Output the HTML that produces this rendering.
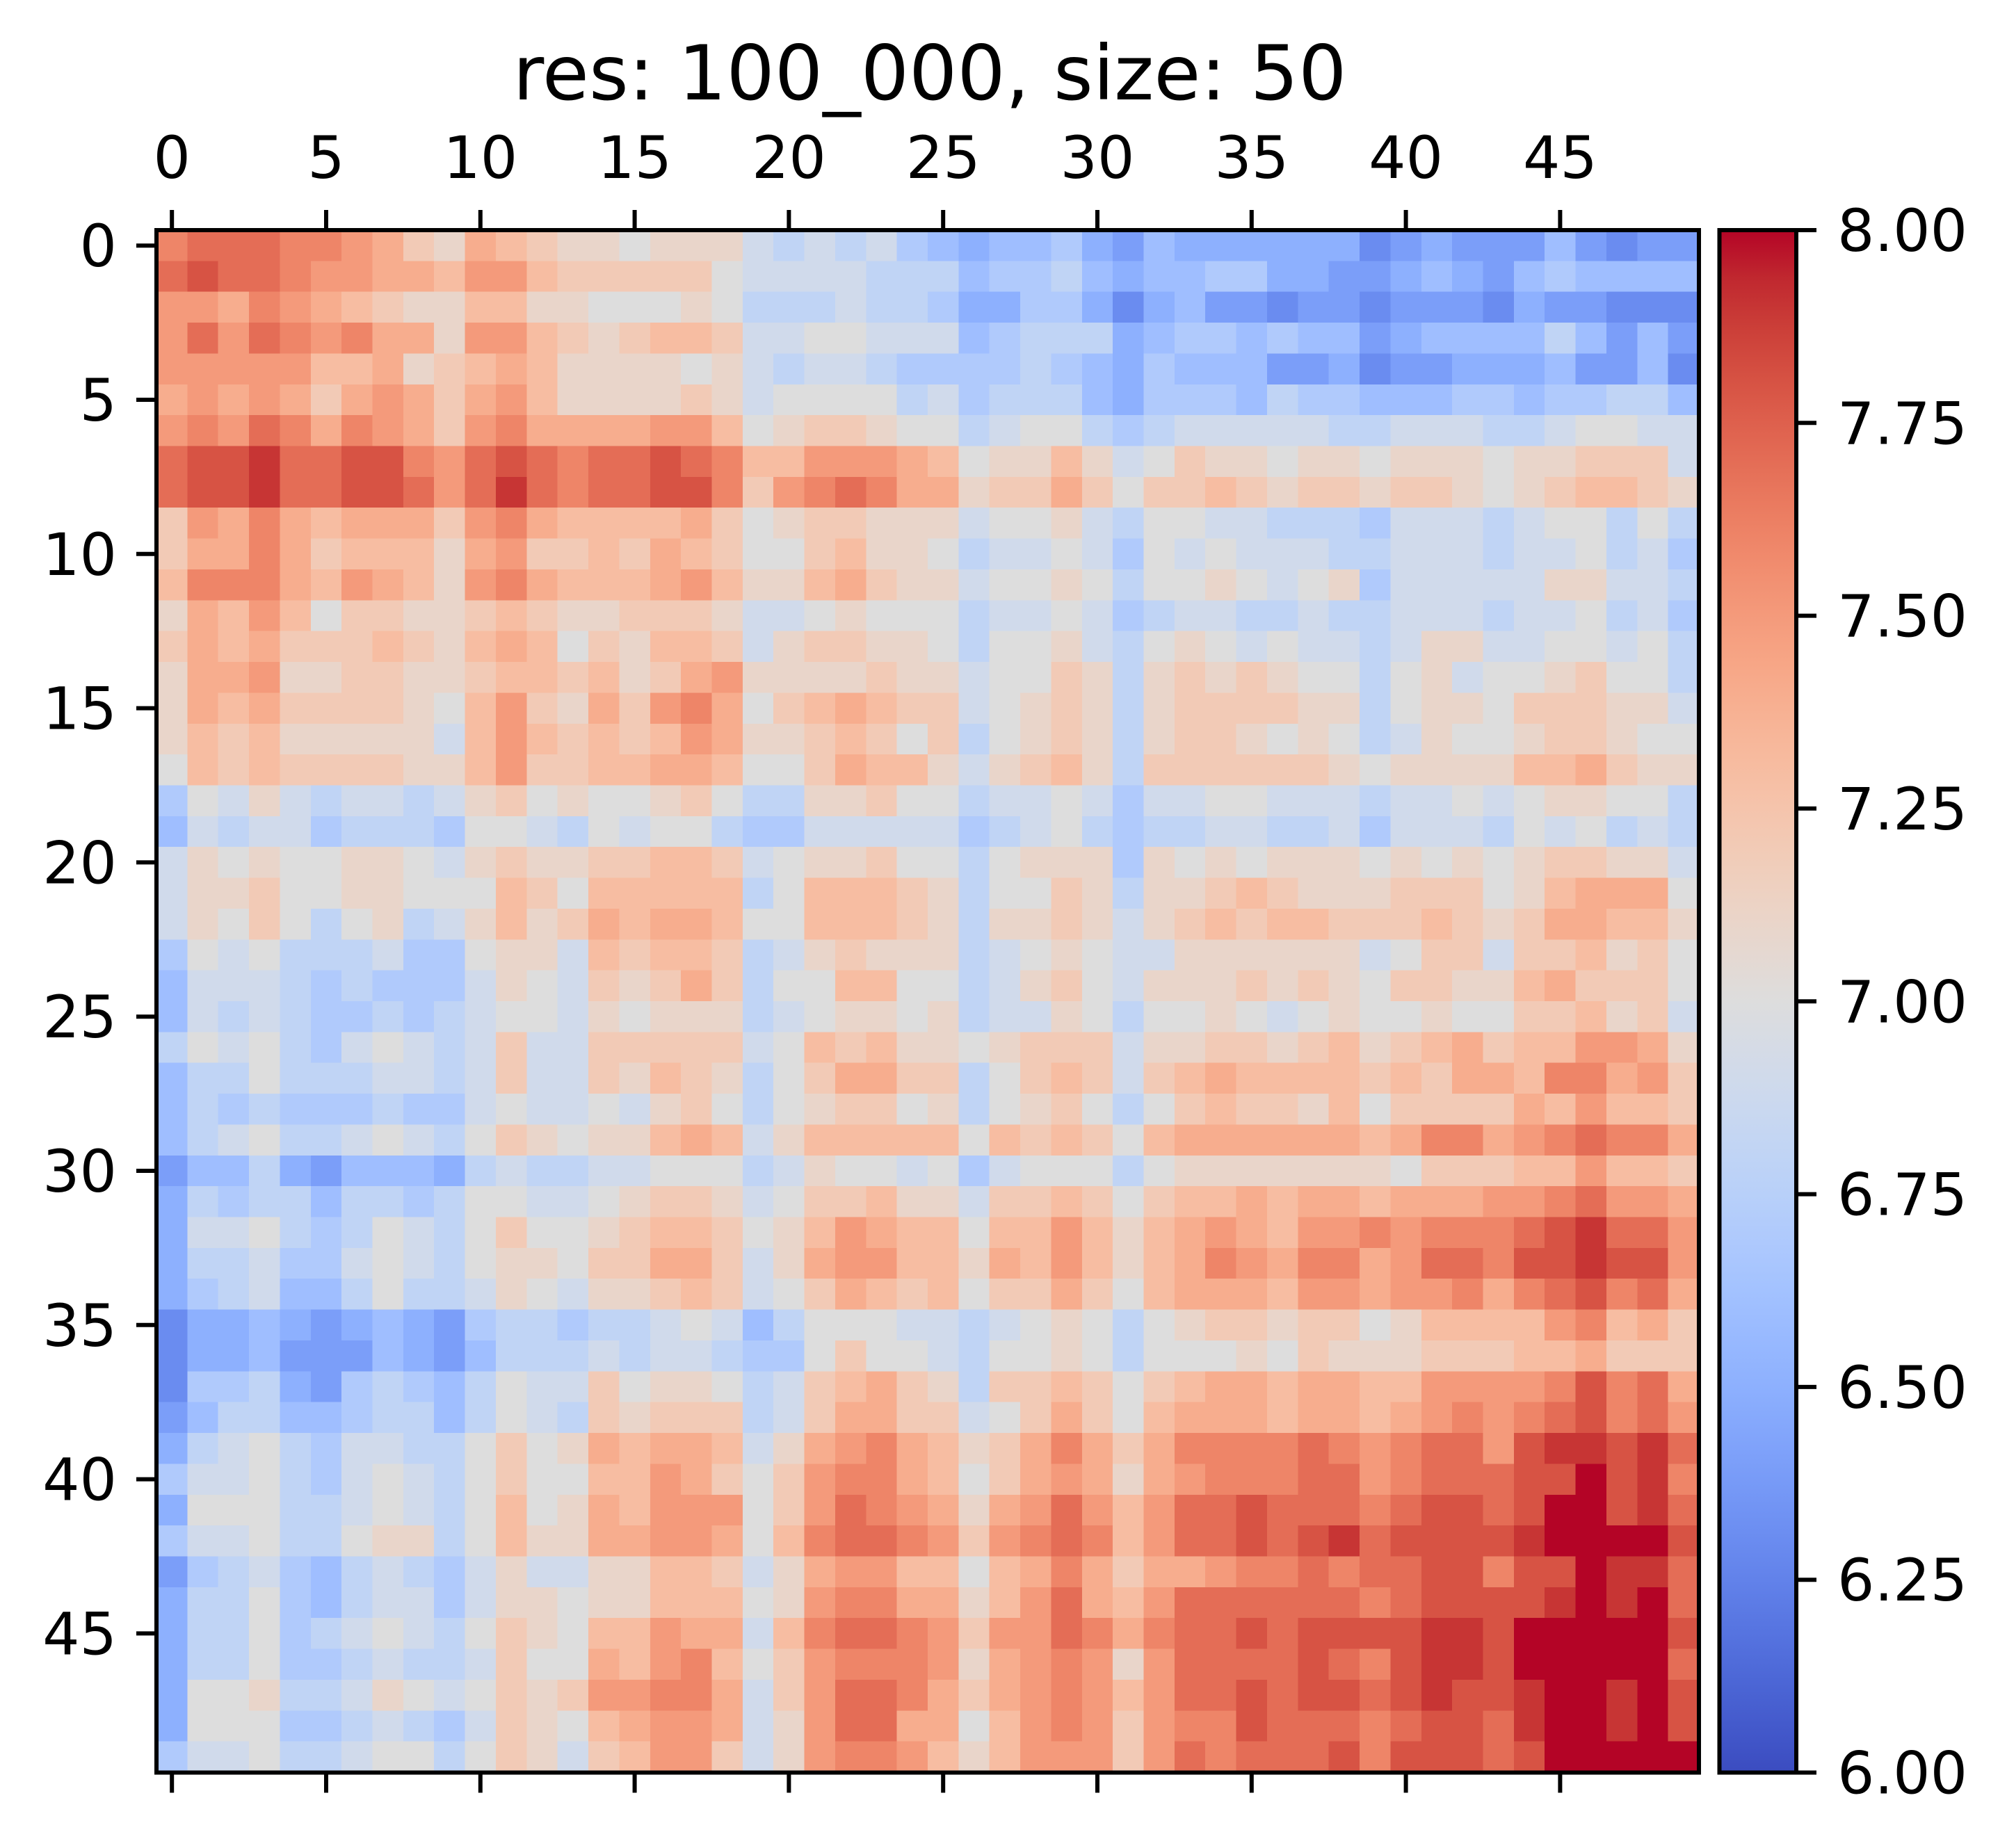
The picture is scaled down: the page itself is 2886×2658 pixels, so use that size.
<!DOCTYPE html>
<html>
<head>
<meta charset="utf-8">
<style>
html,body{margin:0;padding:0;background:#fff;}
body{width:2886px;height:2658px;overflow:hidden;}
svg{display:block;}
text{font-family:"DejaVu Sans","Liberation Sans",sans-serif;fill:#000;}
</style>
</head>
<body>
<svg id="s" width="2886" height="2658" viewBox="0 0 2886 2658" xmlns="http://www.w3.org/2000/svg">
<defs>
<linearGradient id="cb" x1="0" y1="0" x2="0" y2="1">
<stop offset="0" stop-color="rgb(180,4,38)"/>
<stop offset="0.03125" stop-color="rgb(192,40,47)"/>
<stop offset="0.0625" stop-color="rgb(203,62,56)"/>
<stop offset="0.09375" stop-color="rgb(213,80,66)"/>
<stop offset="0.125" stop-color="rgb(222,96,77)"/>
<stop offset="0.15625" stop-color="rgb(229,112,88)"/>
<stop offset="0.1875" stop-color="rgb(236,127,99)"/>
<stop offset="0.21875" stop-color="rgb(241,141,111)"/>
<stop offset="0.25" stop-color="rgb(244,154,123)"/>
<stop offset="0.28125" stop-color="rgb(247,166,134)"/>
<stop offset="0.3125" stop-color="rgb(247,177,147)"/>
<stop offset="0.34375" stop-color="rgb(247,187,159)"/>
<stop offset="0.375" stop-color="rgb(245,196,172)"/>
<stop offset="0.40625" stop-color="rgb(241,204,184)"/>
<stop offset="0.4375" stop-color="rgb(236,211,197)"/>
<stop offset="0.46875" stop-color="rgb(229,216,209)"/>
<stop offset="0.5" stop-color="rgb(221,221,221)"/>
<stop offset="0.53125" stop-color="rgb(213,219,230)"/>
<stop offset="0.5625" stop-color="rgb(204,217,238)"/>
<stop offset="0.59375" stop-color="rgb(194,213,244)"/>
<stop offset="0.625" stop-color="rgb(184,208,249)"/>
<stop offset="0.65625" stop-color="rgb(174,201,253)"/>
<stop offset="0.6875" stop-color="rgb(163,194,255)"/>
<stop offset="0.71875" stop-color="rgb(152,185,255)"/>
<stop offset="0.75" stop-color="rgb(141,176,254)"/>
<stop offset="0.78125" stop-color="rgb(130,165,251)"/>
<stop offset="0.8125" stop-color="rgb(119,154,247)"/>
<stop offset="0.84375" stop-color="rgb(108,142,241)"/>
<stop offset="0.875" stop-color="rgb(98,130,234)"/>
<stop offset="0.90625" stop-color="rgb(87,117,225)"/>
<stop offset="0.9375" stop-color="rgb(77,104,215)"/>
<stop offset="0.96875" stop-color="rgb(68,90,204)"/>
<stop offset="1" stop-color="rgb(59,76,192)"/>
</linearGradient>
</defs>

<g id="cells" shape-rendering="crispEdges"></g>

<!-- axes frame -->
<rect x="225" y="331" width="2218" height="2218.5" fill="none" stroke="#000" stroke-width="6"/>

<g stroke="#000" stroke-width="6">
<line x1="247.2" y1="302" x2="247.2" y2="331"/>
<line x1="469.0" y1="302" x2="469.0" y2="331"/>
<line x1="690.8" y1="302" x2="690.8" y2="331"/>
<line x1="912.6" y1="302" x2="912.6" y2="331"/>
<line x1="1134.4" y1="302" x2="1134.4" y2="331"/>
<line x1="1356.2" y1="302" x2="1356.2" y2="331"/>
<line x1="1578.0" y1="302" x2="1578.0" y2="331"/>
<line x1="1799.8" y1="302" x2="1799.8" y2="331"/>
<line x1="2021.6" y1="302" x2="2021.6" y2="331"/>
<line x1="2243.4" y1="302" x2="2243.4" y2="331"/>
<line x1="247.2" y1="2549.5" x2="247.2" y2="2578.5"/>
<line x1="469.0" y1="2549.5" x2="469.0" y2="2578.5"/>
<line x1="690.8" y1="2549.5" x2="690.8" y2="2578.5"/>
<line x1="912.6" y1="2549.5" x2="912.6" y2="2578.5"/>
<line x1="1134.4" y1="2549.5" x2="1134.4" y2="2578.5"/>
<line x1="1356.2" y1="2549.5" x2="1356.2" y2="2578.5"/>
<line x1="1578.0" y1="2549.5" x2="1578.0" y2="2578.5"/>
<line x1="1799.8" y1="2549.5" x2="1799.8" y2="2578.5"/>
<line x1="2021.6" y1="2549.5" x2="2021.6" y2="2578.5"/>
<line x1="2243.4" y1="2549.5" x2="2243.4" y2="2578.5"/>
<line x1="196" y1="353.2" x2="225" y2="353.2"/>
<line x1="196" y1="575.0" x2="225" y2="575.0"/>
<line x1="196" y1="796.8" x2="225" y2="796.8"/>
<line x1="196" y1="1018.6" x2="225" y2="1018.6"/>
<line x1="196" y1="1240.4" x2="225" y2="1240.4"/>
<line x1="196" y1="1462.2" x2="225" y2="1462.2"/>
<line x1="196" y1="1684.0" x2="225" y2="1684.0"/>
<line x1="196" y1="1905.8" x2="225" y2="1905.8"/>
<line x1="196" y1="2127.6" x2="225" y2="2127.6"/>
<line x1="196" y1="2349.4" x2="225" y2="2349.4"/>
</g>

<g font-size="84" text-anchor="middle">
<text x="247.2" y="256">0</text>
<text x="469.0" y="256">5</text>
<text x="690.8" y="256">10</text>
<text x="912.6" y="256">15</text>
<text x="1134.4" y="256">20</text>
<text x="1356.2" y="256">25</text>
<text x="1578.0" y="256">30</text>
<text x="1799.8" y="256">35</text>
<text x="2021.6" y="256">40</text>
<text x="2243.4" y="256">45</text>
</g>

<g font-size="84" text-anchor="end">
<text x="168" y="383.2">0</text>
<text x="168" y="605.0">5</text>
<text x="168" y="826.8">10</text>
<text x="168" y="1048.6">15</text>
<text x="168" y="1270.4">20</text>
<text x="168" y="1492.2">25</text>
<text x="168" y="1714.0">30</text>
<text x="168" y="1935.8">35</text>
<text x="168" y="2157.6">40</text>
<text x="168" y="2379.4">45</text>
</g>

<text x="1337" y="143" font-size="109" text-anchor="middle">res: 100_000, size: 50</text>

<rect x="2472.5" y="331" width="110.5" height="2218.5" fill="url(#cb)"/>
<rect x="2472.5" y="331" width="110.5" height="2218.5" fill="none" stroke="#000" stroke-width="6"/>
<g stroke="#000" stroke-width="6">
<line x1="2583" y1="331" x2="2612" y2="331"/>
<line x1="2583" y1="608.3" x2="2612" y2="608.3"/>
<line x1="2583" y1="885.6" x2="2612" y2="885.6"/>
<line x1="2583" y1="1162.9" x2="2612" y2="1162.9"/>
<line x1="2583" y1="1440.25" x2="2612" y2="1440.25"/>
<line x1="2583" y1="1717.6" x2="2612" y2="1717.6"/>
<line x1="2583" y1="1994.9" x2="2612" y2="1994.9"/>
<line x1="2583" y1="2272.2" x2="2612" y2="2272.2"/>
<line x1="2583" y1="2549.5" x2="2612" y2="2549.5"/>
</g>
<g font-size="84" text-anchor="start">
<text x="2642" y="361">8.00</text>
<text x="2642" y="638.3">7.75</text>
<text x="2642" y="915.6">7.50</text>
<text x="2642" y="1192.9">7.25</text>
<text x="2642" y="1470.25">7.00</text>
<text x="2642" y="1747.6">6.75</text>
<text x="2642" y="2024.9">6.50</text>
<text x="2642" y="2302.2">6.25</text>
<text x="2642" y="2579.5">6.00</text>
</g>
</svg>

<script>
(function(){
var rows = [
"qrrrq qpoml onmll klllj ijijh gfggh fegff ffffd efeee gedee",
"rsrrq ppoon ppnmm mmmkj jjjii ighhi gfggh hffee fgfeg hgggg",
"ppoqp onmll nnllk kklki iijii hffhh fdfge edeed eeedf eeddd",
"prprq pqool ppnml mnnmj jkkjj jghii ifghh ghgge fgggg igege",
"ppppp nnolm nonll llklj ijjih hhhih gfhgg geefd eefff geegd",
"opopo mopom opnll llmlj kkkki jhiii gfhhh gihhg gghhg hhiig",
"pqprq oqpom pqooo oppnk lmmlk kijkk ihijj jjjii jjjii jkkjj",
"rsstr rssqp rsrqr rsrqn npppo nklln ljkml lkllk lllkl lmmmj",
"rsstr rssrp rtrqr rssqm pqrqo olmmo mkmmn mlmml mmlkl mnnml",
"mpoqo nooom pqonn nnomk lmmll ljkkl jikkj jiiih jjjij kkiki",
"mooqo mnnnl opmmn monmk kmnll kijjk jhkjk jjjii jjjij jkijh",
"nqqqo nponl pqonn nopnl lnoml ljkkl kikkl kjklh jjjjj lljji",
"lonpn kmmll mnmll mmmlj jklkk kijjk jhijj iijii jjjij jkijh",
"monom mmnml nonkm lnnmj lmmll kikkl jiklk jkjji jlljj kkjki",
"loopl lmmll mnnmn lmopl lllml ljkkm lilml mlkki kljkk lmkki",
"lonom mmmlk npmlo mpqok mnonm mjklm lilmm mmlli kllkm mmllj",
"lnmnl llllj npnmn mnpol lmnmk miklm lilmm lklki jlkkl mmlkk",
"knmnm mmmll npmmn noonk kmonn ljlmn limmm mmmlk lllln nomll",
"hkjlj ijjij lmklk klmki illmk kijjk jhjjk kjjji jjkjk llkki",
"gjijj hiiih kkjik jkkih hjjjj jhijk ihiij jiijh jjjik jkiji",
"jlklk kllkj lmllm mnnmj kllmk kikll lhlkl klllk lklkl mmllj",
"jllmk kllkk knmkn nnnni knnnm likkm lillm nmlll mmmkl noook",
"jlkmk iklij lnlmo noonk knnnm lillm ljlmn mnnmm mnmlm oonnl",
"hkjki iijhh klljn mnnmi jlmll lijkl kjjll llllj kmmjm mnlmk",
"gjjji hihhh jlkjm lmomi kknnk kijlm kjlll mlmlk mmlln ommmk",
"gjiji hhihi jkkjl kllli jkllk lijjl kikkl kjklk klkkm mnlmj",
"ikjki hjkji jmjjm mmmmj knmnl lklmm mjllm mlmnl mnomn nppol",
"giiki iijji jmjjm lnmli kmoom mikmn mjmno nnnnm nmoon qqopm",
"gihih hhihh jkjjk jlmki klmmk liklm kikmn mmlnk mmmmo npnnm",
"gijki ijkji kmlkl lnonj lnnnn nknmn mknoo oooon oqqop qrqqo",
"eggif egggf ijiij jkkki jlkkj khjkk kikll lllll kmmmn npnnm",
"fihii giihi kkjjk lmmlj kmmnl ljmmn mkmnn onoon ooopp qrppo",
"fjjki hikji kmkkl mnnmk lnpon nknnp nlnop onppq pqqqr strrp",
"fiijh hjkji kllkm moomj loppn nlonp nlnoq poqqo prrqs stssp",
"fhijg gikii jlkjl lmnmj kmonm nkmmo mknoo onppo ppqoq rsqro",
"dffgf efgfe hiihi ijkjg ikkkj jijkl kiklm mlmmk lnnnn pqnom",
"dffge eegfe giiij ijjih hkmkk jikkl kikkk lkmll lmmmn nommm",
"dhhif ehihg ikjjm kllki jmnom limmn mkmno onoon npppp qsqro",
"egiig ghiig ikjim lmmmi jmoom mjkmo mknoo onoon opqpq rsqrp",
"fijki hjjii kmklo noonj lopqo nlmoq omoqq qqrqp qrrps ttstr",
"hjjki hjkji kmkkn npomk mpqqo nkmop olopq qqrrp qrrrs sustq",
"fkkki ijkji knklo npppk mprqp olopr pnprr srrrq rssrs uustr",
"hjjki iklli knllo oppok nqrrq pmpqr qnprr srstr sssst uuuus",
"ehijh gijih jljjl lnnmj loppn nknoq omoop qqrqr rssqs suttr",
"fiikh gijjh jllkl lnnnk lpqqo olnpr onprr rrrrq rssss tutur",
"fiikh ijkji kmlkn npooj nqrrq pmppr qoqrr srsss sttsu uuuus",
"fiikh hijii jmkko npqnk mpqqq plopq plprr rrsrq sttsu uuuur",
"fkkli ijlkj kmlmp pqqoj mprrq omopq pnprr srssr stsst uutus",
"fkkkh hijih jmlkn oppoj lprro oknpq pmpqq srrrq rssrt uutus",
"hjjki ijkki kmljm nppmj lpqqp nlnpp pmprq rrrsq sssrs uuuuu"
];
var st = [[59,76,192],[68,90,204],[77,104,215],[87,117,225],[98,130,234],[108,142,241],[119,154,247],[130,165,251],[141,176,254],[152,185,255],[163,194,255],[174,201,253],[184,208,249],[194,213,244],[204,217,238],[213,219,230],[221,221,221],[229,216,209],[236,211,197],[241,204,184],[245,196,172],[247,187,159],[247,177,147],[247,166,134],[244,154,123],[241,141,111],[236,127,99],[229,112,88],[222,96,77],[213,80,66],[203,62,56],[192,40,47],[180,4,38]];
function cmap(t){
  if(t<0)t=0; if(t>1)t=1;
  var x=t*32, i=Math.floor(x); if(i>31)i=31; var f=x-i;
  var a=st[i], b=st[i+1];
  return "rgb("+Math.round(a[0]+(b[0]-a[0])*f)+","+Math.round(a[1]+(b[1]-a[1])*f)+","+Math.round(a[2]+(b[2]-a[2])*f)+")";
}
var g=document.getElementById("cells");
var NS="http://www.w3.org/2000/svg";
var x0=225,y0=331,cs=2218/50;
for(var r=0;r<50;r++){
  var s=rows[r].replace(/\s+/g,"");
  for(var c=0;c<50;c++){
    var ch=s.charAt(c)||"k";
    var v=(ch.charCodeAt(0)-97)/20;
    var rc=document.createElementNS(NS,"rect");
    rc.setAttribute("x",(x0+c*cs).toFixed(2));
    rc.setAttribute("y",(y0+r*cs).toFixed(2));
    rc.setAttribute("width",(cs+0.8).toFixed(2));
    rc.setAttribute("height",(cs+0.8).toFixed(2));
    rc.setAttribute("fill",cmap(v));
    g.appendChild(rc);
  }
}
})();
</script>
</body>
</html>
